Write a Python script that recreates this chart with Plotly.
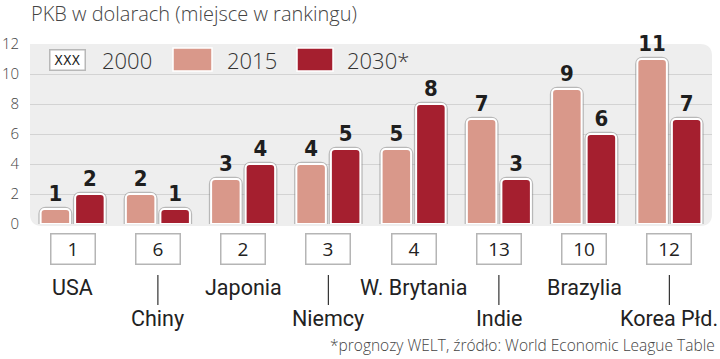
import plotly.graph_objects as go

countries = ["USA", "Chiny", "Japonia", "Niemcy", "W. Brytania", "Indie", "Brazylia", "Korea Płd."]
rank_2000 = [1, 6, 2, 3, 4, 13, 10, 12]
rank_2015 = [1, 2, 3, 4, 5, 7, 9, 11]
rank_2030 = [2, 1, 4, 5, 8, 3, 6, 7]
y_ticks = [0, 2, 4, 6, 8, 10, 12]

C2015 = "#d9988a"
C2030 = "#a51f2f"
BG = "#eeeeee"
GRID = "#d3d3d3"
FONT = "Roboto"
LIGHT = "Open Sans"
NUMFONT = "DejaVu Sans Condensed"

fig = go.Figure()
idx = list(range(len(countries)))

for k, (vals, col) in enumerate([(rank_2015, C2015), (rank_2030, C2030)]):
    fig.add_trace(go.Bar(
        x=idx, y=vals, offsetgroup=str(k), hoverinfo="skip", showlegend=False,
        marker=dict(color="rgba(0,0,0,0)", line=dict(color="rgba(140,140,140,0.55)", width=4.5),
                    cornerradius=5),
    ))
    fig.add_trace(go.Bar(
        x=idx, y=vals, offsetgroup=str(k), showlegend=False,
        marker=dict(color=col, line=dict(color="white", width=2), cornerradius=4),
        text=vals, texttemplate="%{y}", textposition="outside", cliponaxis=False,
        textfont=dict(family=NUMFONT, size=22, color="#1e1e1e", weight="bold"),
    ))

W, H = 682.0, 180.0
rx, ry = 12 / W, 12 / H
y0 = -2 / H
bg_path = (f"M0,1 L{1-rx},1 Q1,1 1,{1-ry} L1,{y0+ry} Q1,{y0} {1-rx},{y0} "
           f"L{rx},{y0} Q0,{y0} 0,{y0+ry} Z")
shapes = [dict(type="path", xref="paper", yref="paper", path=bg_path,
               fillcolor=BG, line=dict(width=0), layer="below")]

annotations = []
# title
annotations.append(dict(text="PKB w dolarach (miejsce w rankingu)", xref="paper", yref="paper",
                        x=-0.002, y=(224 - 14) / H, xanchor="left", yanchor="middle", showarrow=False,
                        font=dict(family=LIGHT, size=20, color="#444444", weight=300)))
# legend
ly = (224 - 59.5) / H
annotations.append(dict(text="XXX", xref="paper", yref="paper", x=(67 - 30) / W, y=ly,
                        xanchor="center", yanchor="middle", showarrow=False, width=34, height=19,
                        bgcolor="white", bordercolor="#b8b8b8", borderwidth=1.5, borderpad=0,
                        font=dict(family=NUMFONT, size=14, color="#222222")))
for txt, xs in [("2000", 100), ("2015", 225), ("2030*", 345)]:
    annotations.append(dict(text=txt, xref="paper", yref="paper", x=(xs - 30) / W, y=ly,
                            xanchor="left", yanchor="middle", showarrow=False,
                            font=dict(family=LIGHT, size=22, color="#333333", weight=300)))
for col, xa, xb in [(C2015, 173, 212), (C2030, 297, 333)]:
    shapes.append(dict(type="rect", xref="paper", yref="paper",
                       x0=(xa - 30) / W, x1=(xb - 30) / W, y0=(224 - 71) / H, y1=(224 - 48) / H,
                       fillcolor=col, line=dict(color="white", width=1.5)))

# rank boxes and country labels
for i, (c, r) in enumerate(zip(countries, rank_2000)):
    annotations.append(dict(text=str(r), xref="x", yref="paper", x=i, y=(224 - 248.5) / H,
                            xanchor="center", yanchor="middle", showarrow=False, width=43, height=29,
                            bgcolor="white", bordercolor="#b5b5b5", borderwidth=1.5, borderpad=0,
                            font=dict(family=LIGHT, size=19, color="#222222")))
    if i % 2 == 0:
        annotations.append(dict(text=c, xref="x", yref="paper", x=i, y=(224 - 287) / H,
                                xanchor="center", yanchor="middle", showarrow=False,
                                font=dict(family=FONT, size=21.5, color="#222222")))
    else:
        annotations.append(dict(text=c, xref="x", yref="paper", x=i, y=(224 - 318) / H,
                                xanchor="center", yanchor="middle", showarrow=False,
                                font=dict(family=FONT, size=21.5, color="#222222")))
        shapes.append(dict(type="line", xref="x", yref="paper", x0=i, x1=i,
                           y0=(224 - 275) / H, y1=(224 - 305) / H,
                           line=dict(color="#333333", width=1.2)))

annotations.append(dict(text="*prognozy WELT, źródło: World Economic League Table", xref="paper",
                        yref="paper", x=(717 - 30) / W, y=(224 - 345) / H, xanchor="right",
                        yanchor="middle", showarrow=False,
                        font=dict(family=LIGHT, size=15.5, color="#444444", weight=300)))

fig.update_layout(
    width=720, height=359,
    margin=dict(l=30, r=8, t=44, b=135, autoexpand=False),
    paper_bgcolor="white", plot_bgcolor="rgba(0,0,0,0)",
    barmode="group", bargap=0.19, bargroupgap=0.145,
    shapes=shapes, annotations=annotations,
    xaxis=dict(range=[-0.5, 7.5], showticklabels=False, showgrid=False, zeroline=False,
               fixedrange=True, automargin=False),
    yaxis=dict(range=[0, 12], tickvals=y_ticks, showgrid=True, gridcolor=GRID, gridwidth=1,
               zeroline=False, ticks="", ticklabelstandoff=10, fixedrange=True, automargin=False,
               tickfont=dict(family=LIGHT, size=15, color="#444444", weight=300)),
    font=dict(family=FONT),
    showlegend=False,
)

fig.write_html("out.html", config={"displayModeBar": False},
               post_script="document.body.style.margin='0';document.body.style.overflow='hidden';")
